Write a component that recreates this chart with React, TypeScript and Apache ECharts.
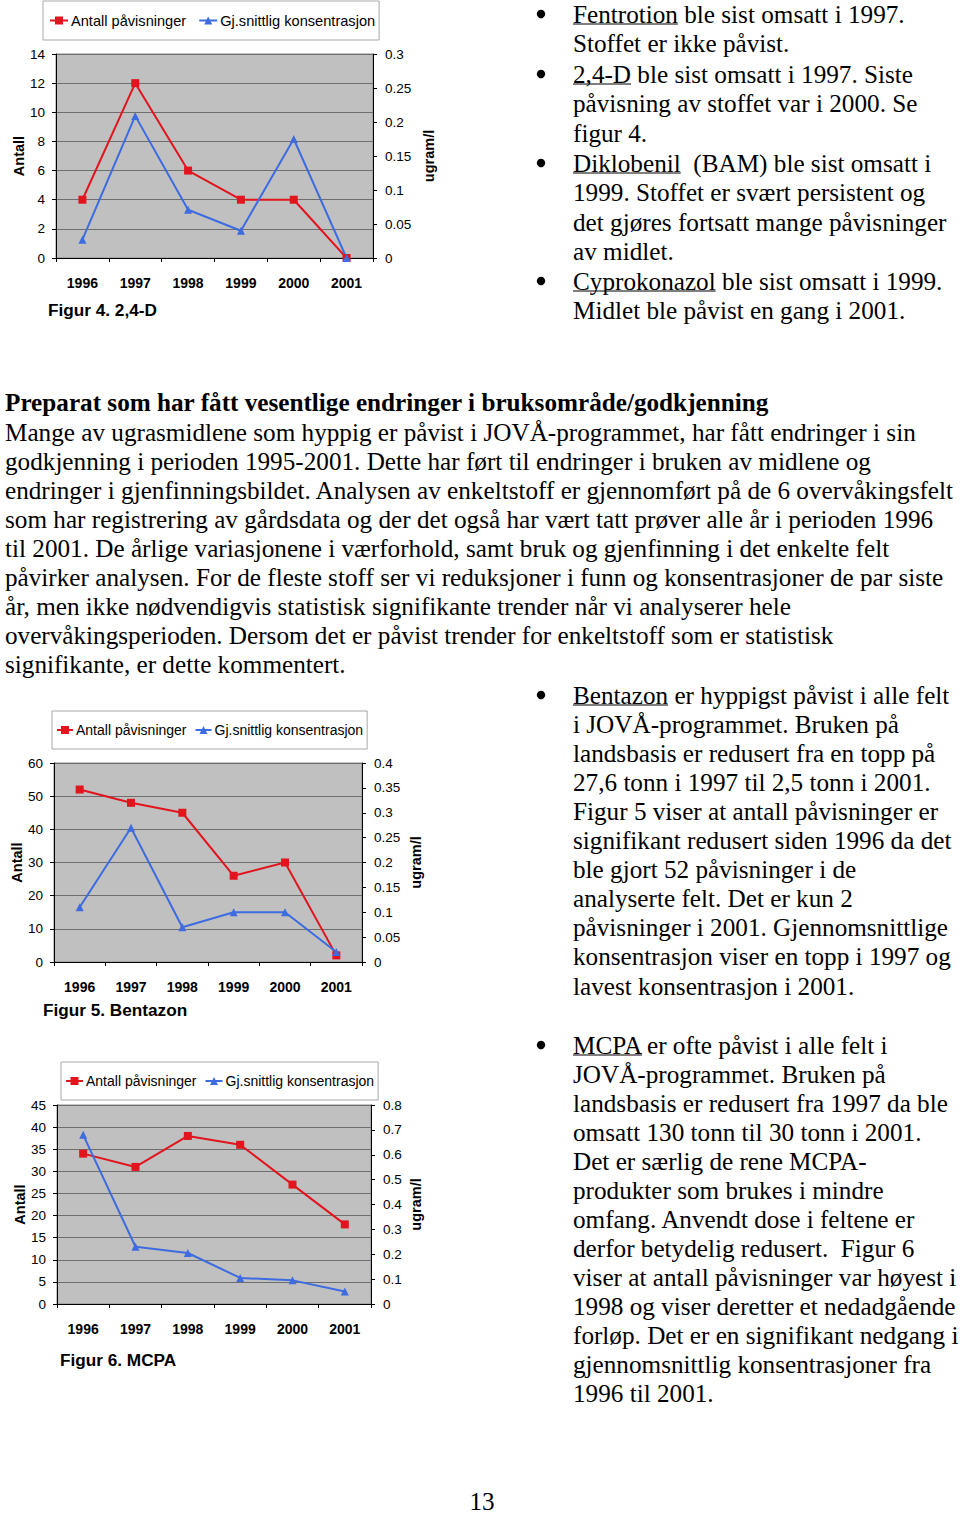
import React, { useEffect, useRef } from 'react';
import * as echarts from 'echarts';

const years = ['1996', '1997', '1998', '1999', '2000', '2001'];
const fig4Antall = [4, 12, 6, 4, 4, 0];
const fig4Konsentrasjon = [0.027, 0.209, 0.071, 0.04, 0.175, 0];
const fig5Antall = [52, 48, 45, 26, 30, 2];
const fig5Konsentrasjon = [0.11, 0.27, 0.07, 0.1, 0.1, 0.02];
const fig6Antall = [34, 31, 38, 36, 27, 18];
const fig6Konsentrasjon = [0.68, 0.23, 0.205, 0.105, 0.095, 0.05];

const seriesNames = ['Antall påvisninger', 'Gj.snittlig konsentrasjon'];
const captions = ['Figur 4. 2,4-D', 'Figur 5. Bentazon', 'Figur 6. MCPA'];
const leftAxes = [
  { max: 14, interval: 2 },
  { max: 60, interval: 10 },
  { max: 45, interval: 5 },
];
const rightAxes = [
  { max: 0.3, interval: 0.05 },
  { max: 0.4, interval: 0.05 },
  { max: 0.8, interval: 0.1 },
];

const topBullets = [
  { u: 'Fentrotion', lines: ['Fentrotion ble sist omsatt i 1997.', 'Stoffet er ikke påvist.'], y: 14 },
  { u: '2,4-D', lines: ['2,4-D ble sist omsatt i 1997. Siste', 'påvisning av stoffet var i 2000. Se', 'figur 4.'], y: 74 },
  { u: 'Diklobenil', lines: ['Diklobenil  (BAM) ble sist omsatt i', '1999. Stoffet er svært persistent og', 'det gjøres fortsatt mange påvisninger', 'av midlet.'], y: 163 },
  { u: 'Cyprokonazol', lines: ['Cyprokonazol ble sist omsatt i 1999.', 'Midlet ble påvist en gang i 2001.'], y: 281 },
];
const heading = 'Preparat som har fått vesentlige endringer i bruksområde/godkjenning';
const paragraph = [
  'Mange av ugrasmidlene som hyppig er påvist i JOVÅ-programmet, har fått endringer i sin',
  'godkjenning i perioden 1995-2001. Dette har ført til endringer i bruken av midlene og',
  'endringer i gjenfinningsbildet. Analysen av enkeltstoff er gjennomført på de 6 overvåkingsfelt',
  'som har registrering av gårdsdata og der det også har vært tatt prøver alle år i perioden 1996',
  'til 2001. De årlige variasjonene i værforhold, samt bruk og gjenfinning i det enkelte felt',
  'påvirker analysen. For de fleste stoff ser vi reduksjoner i funn og konsentrasjoner de par siste',
  'år, men ikke nødvendigvis statistisk signifikante trender når vi analyserer hele',
  'overvåkingsperioden. Dersom det er påvist trender for enkeltstoff som er statistisk',
  'signifikante, er dette kommentert.',
];
const bentazonText = [
  'Bentazon er hyppigst påvist i alle felt',
  'i JOVÅ-programmet. Bruken på',
  'landsbasis er redusert fra en topp på',
  '27,6 tonn i 1997 til 2,5 tonn i 2001.',
  'Figur 5 viser at antall påvisninger er',
  'signifikant redusert siden 1996 da det',
  'ble gjort 52 påvisninger i de',
  'analyserte felt. Det er kun 2',
  'påvisninger i 2001. Gjennomsnittlige',
  'konsentrasjon viser en topp i 1997 og',
  'lavest konsentrasjon i 2001.',
];
const mcpaText = [
  'MCPA er ofte påvist i alle felt i',
  'JOVÅ-programmet. Bruken på',
  'landsbasis er redusert fra 1997 da ble',
  'omsatt 130 tonn til 30 tonn i 2001.',
  'Det er særlig de rene MCPA-',
  'produkter som brukes i mindre',
  'omfang. Anvendt dose i feltene er',
  'derfor betydelig redusert.  Figur 6',
  'viser at antall påvisninger var høyest i',
  '1998 og viser deretter et nedadgående',
  'forløp. Det er en signifikant nedgang i',
  'gjennomsnittlig konsentrasjoner fra',
  '1996 til 2001.',
];
const pageNumber = '13';

const RED = '#e2141e';
const BLUE = '#3d6be0';
const SANS = '"Liberation Sans", Arial, sans-serif';
const SERIF = '"Liberation Serif", "Times New Roman", serif';
const BODY_FONT = '25.2px ' + SERIF;

const layouts = [
  { grid: { left: 56, top: 54, width: 317, height: 204 }, legend: { left: 43, top: 1 }, legendFont: 14.6, legendPad: 6, legendItemW: 18, legendGap: 12, antallGap: 29, ugramGap: 48, caption: [48, 310] },
  { grid: { left: 54, top: 763, width: 308, height: 199 }, legend: { left: 52, top: 711 }, legendFont: 14.0, legendPad: 4, legendItemW: 16, legendGap: 8, antallGap: 27, ugramGap: 46, caption: [43, 1010] },
  { grid: { left: 57, top: 1105, width: 314, height: 199 }, legend: { left: 61, top: 1062 }, legendFont: 14.0, legendPad: 4, legendItemW: 17, legendGap: 8, antallGap: 30, ugramGap: 37, caption: [60, 1360] },
];

let measureCtx: CanvasRenderingContext2D | null = null;
function measure(text: string, font: string): number {
  if (!measureCtx) measureCtx = document.createElement('canvas').getContext('2d');
  measureCtx!.font = font;
  return measureCtx!.measureText(text).width;
}

function textEl(text: string, x: number, y: number, font: string, align = 'left') {
  return {
    type: 'text',
    x,
    y,
    style: {
      text,
      font,
      fill: '#000',
      textAlign: align,
      align,
      textVerticalAlign: 'middle',
      verticalAlign: 'middle',
    },
  };
}

function underline(x: number, y: number, w: number) {
  return {
    type: 'line',
    shape: { x1: x, y1: y + 10, x2: x + w, y2: y + 10 },
    style: { stroke: '#000', lineWidth: 1.2 },
  };
}

function bullet(y: number) {
  return { type: 'circle', shape: { cx: 541, cy: y, r: 4.2 }, style: { fill: '#000' } };
}

function buildGraphics() {
  const els: any[] = [];
  const TX = 573;
  topBullets.forEach((b) => {
    els.push(bullet(b.y));
    b.lines.forEach((l, i) => els.push(textEl(l, TX, b.y + i * 29.5, BODY_FONT)));
    els.push(underline(TX, b.y, measure(b.u, BODY_FONT)));
  });
  els.push(textEl(heading, 5, 402, 'bold ' + BODY_FONT));
  paragraph.forEach((l, i) => els.push(textEl(l, 5, 432 + i * 29.0, BODY_FONT)));
  els.push(bullet(695));
  bentazonText.forEach((l, i) => els.push(textEl(l, TX, 695 + i * 29.1, BODY_FONT)));
  els.push(underline(TX, 695, measure('Bentazon', BODY_FONT)));
  els.push(bullet(1045));
  mcpaText.forEach((l, i) => els.push(textEl(l, TX, 1045 + i * 29.0, BODY_FONT)));
  els.push(underline(TX, 1045, measure('MCPA', BODY_FONT)));
  els.push(textEl(pageNumber, 482, 1501, BODY_FONT, 'center'));
  layouts.forEach((lay, i) => {
    els.push(textEl(captions[i], lay.caption[0], lay.caption[1], 'bold 17.2px ' + SANS));
  });
  return els;
}

function buildOption() {
  const datasets = [
    [fig4Antall, fig4Konsentrasjon],
    [fig5Antall, fig5Konsentrasjon],
    [fig6Antall, fig6Konsentrasjon],
  ];
  const grid: any[] = [];
  const xAxis: any[] = [];
  const yAxis: any[] = [];
  const series: any[] = [];
  const legend: any[] = [];
  const axisLine = { show: true, lineStyle: { color: '#000', width: 1 } };
  const labelStyle = { color: '#000', fontFamily: SANS, fontSize: 13.5 };
  layouts.forEach((lay, i) => {
    grid.push({
      ...lay.grid,
      show: true,
      backgroundColor: '#c0c0c0',
      borderColor: '#8a8a8a',
      borderWidth: 1,
      containLabel: false,
    });
    xAxis.push({
      gridIndex: i,
      type: 'category',
      data: years,
      boundaryGap: true,
      axisLine,
      axisTick: { show: true, length: 4, lineStyle: { color: '#000' } },
      axisLabel: { ...labelStyle, fontSize: 14, fontWeight: 'bold', margin: 18 },
      splitLine: { show: false },
    });
    yAxis.push({
      gridIndex: i,
      type: 'value',
      position: 'left',
      min: 0,
      max: leftAxes[i].max,
      interval: leftAxes[i].interval,
      axisLine,
      axisTick: { show: true, length: 4, lineStyle: { color: '#000' } },
      axisLabel: { ...labelStyle, margin: 11 },
      splitLine: { show: true, lineStyle: { color: '#6e6e6e', width: 1 } },
      name: 'Antall',
      nameLocation: 'middle',
      nameRotate: 90,
      nameGap: lay.antallGap,
      nameTextStyle: { ...labelStyle, fontSize: 14.5, fontWeight: 'bold' },
    });
    yAxis.push({
      gridIndex: i,
      type: 'value',
      position: 'right',
      min: 0,
      max: rightAxes[i].max,
      interval: rightAxes[i].interval,
      axisLine,
      axisTick: { show: true, length: 4, lineStyle: { color: '#000' } },
      axisLabel: { ...labelStyle, margin: 12 },
      splitLine: { show: false },
      name: 'ugram/l',
      nameLocation: 'middle',
      nameRotate: 90,
      nameGap: lay.ugramGap,
      nameTextStyle: { ...labelStyle, fontSize: 14.5, fontWeight: 'bold' },
    });
    series.push({
      type: 'line',
      name: seriesNames[0],
      xAxisIndex: i,
      yAxisIndex: 2 * i,
      data: datasets[i][0],
      symbol: 'rect',
      symbolSize: 8,
      lineStyle: { color: RED, width: 2 },
      itemStyle: { color: RED },
    });
    series.push({
      type: 'line',
      name: seriesNames[1],
      xAxisIndex: i,
      yAxisIndex: 2 * i + 1,
      data: datasets[i][1],
      symbol: 'triangle',
      symbolSize: 8,
      lineStyle: { color: BLUE, width: 2 },
      itemStyle: { color: BLUE },
    });
    legend.push({
      left: lay.legend.left,
      top: lay.legend.top,
      orient: 'horizontal',
      data: seriesNames,
      padding: [12, 4, 12, lay.legendPad],
      borderColor: '#a8a8a8',
      borderWidth: 1,
      backgroundColor: '#fff',
      itemWidth: lay.legendItemW,
      itemHeight: 10,
      itemGap: lay.legendGap,
      textStyle: { color: '#000', fontFamily: SANS, fontSize: lay.legendFont, padding: [0, 0, 0, -2] },
      selectedMode: false,
    });
  });
  return {
    animation: false,
    backgroundColor: '#fff',
    grid,
    xAxis,
    yAxis,
    series,
    legend,
    graphic: buildGraphics(),
  };
}

export default function App() {
  const ref = useRef<HTMLDivElement>(null);
  useEffect(() => {
    if (!ref.current) return;
    const chart = echarts.init(ref.current, undefined, { renderer: 'svg' });
    chart.setOption(buildOption() as any);
    return () => chart.dispose();
  }, []);
  return (
    <div
      ref={ref}
      style={{ position: 'absolute', left: 0, top: 0, width: 960, height: 1515, background: '#fff' }}
    />
  );
}
